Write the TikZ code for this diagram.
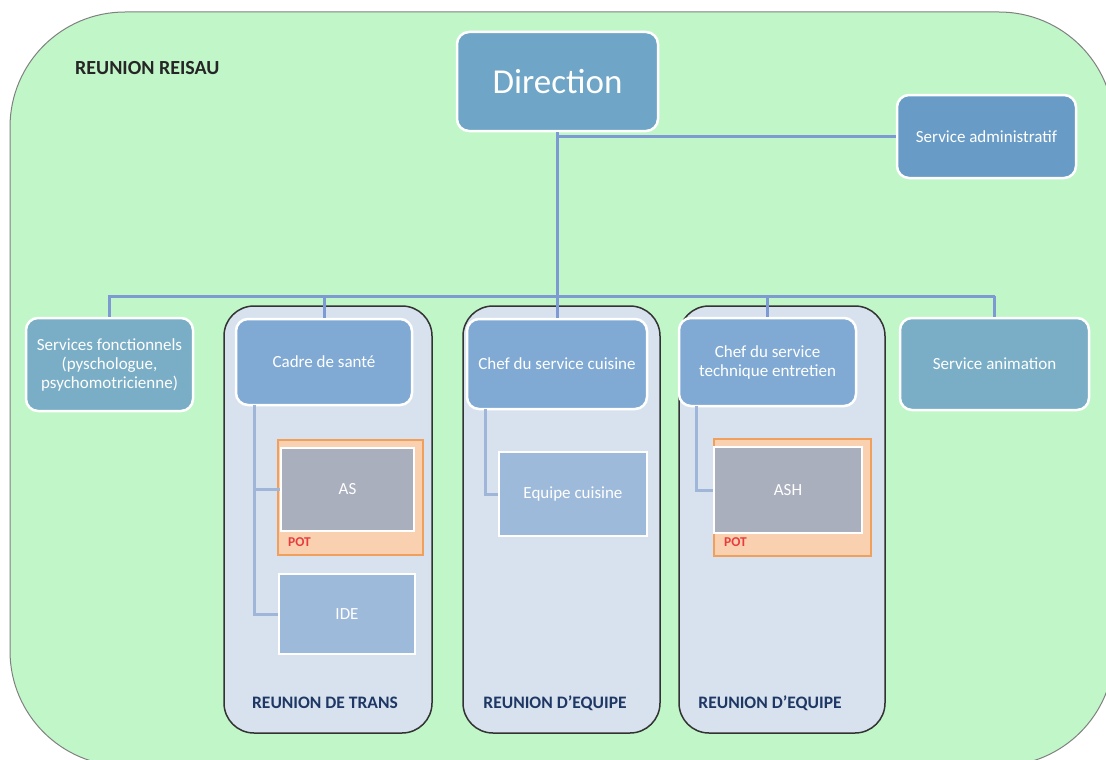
\documentclass[tikz,border=0pt]{standalone}
\usepackage{fontspec}
\setmainfont{Carlito}
\definecolor{bgfill}{RGB}{192,246,200}
\definecolor{dirfill}{RGB}{111,165,198}
\definecolor{admfill}{RGB}{104,156,198}
\definecolor{tealfill}{RGB}{122,174,198}
\definecolor{headfill}{RGB}{128,170,212}
\definecolor{grpfill}{RGB}{216,226,238}
\definecolor{teamfill}{RGB}{158,186,219}
\definecolor{greyfill}{RGB}{170,175,189}
\definecolor{potfill}{RGB}{249,209,176}
\definecolor{potdraw}{RGB}{240,160,90}
\definecolor{pottext}{RGB}{232,60,60}
\definecolor{linkc}{RGB}{125,155,210}
\definecolor{sublinkc}{RGB}{160,182,216}
\definecolor{grplabel}{RGB}{30,55,100}
\tikzset{
  box/.style={draw=white, line width=2.5pt, rounded corners=12pt, text=white,
    font=\fontsize{17}{19}\selectfont, align=center, inner sep=0pt},
  sqbox/.style={draw=white, line width=2.5pt, text=white,
    font=\fontsize{17}{19}\selectfont, align=center, inner sep=0pt},
  grp/.style={draw=black!80, line width=1.5pt, fill=grpfill, rounded corners=30pt, inner sep=0pt},
  potbox/.style={draw=potdraw, fill=potfill, line width=1.5pt, inner sep=0pt},
  potlabel/.style={text=pottext, font=\fontsize{13.5}{14}\selectfont\bfseries, inner sep=0pt, anchor=west},
  grplab/.style={text=grplabel, font=\fontsize{17.5}{18}\selectfont\bfseries, inner sep=0pt},
  link/.style={draw=linkc, line width=3pt},
  sublink/.style={draw=sublinkc, line width=3pt},
}
\begin{document}
\begin{tikzpicture}[x=1pt,y=-1pt]
\useasboundingbox (0,0) rectangle (1106,760);
% network area
\begin{scope}
\clip (0,0) rectangle (1106,760);
\draw[fill=bgfill, draw=black!50, line width=1pt, rounded corners=115pt] (10,12) rectangle (1114,766);
\end{scope}
\node[text=black!85, font=\fontsize{20}{20}\selectfont\bfseries, anchor=west, inner sep=0pt] (reisau) at (75,68) {REUNION REISAU};

% meeting groups
\node[grp, minimum width=208pt, minimum height=427pt] (g1) at (328,519.5) {};
\node[grp, minimum width=197pt, minimum height=427pt] (g2) at (561.5,519.5) {};
\node[grp, minimum width=206pt, minimum height=427pt] (g3) at (782,519.5) {};
\node[grplab] (l1) at (325,703) {REUNION DE TRANS};
\node[grplab] (l2) at (555,703) {REUNION D’EQUIPE};
\node[grplab] (l3) at (770,703) {REUNION D’EQUIPE};

% bus and branch points
\coordinate (busL) at (108,296);
\coordinate (busR) at (995,296);
\coordinate (c1) at (254,405);
\coordinate (c2) at (485,409);
\coordinate (c3) at (696,406);

% top of the chart
\node[box, fill=dirfill, minimum width=201pt, minimum height=99pt, font=\fontsize{35}{35}\selectfont] (dir) at (557.5,81.5) {Direction};
\node[box, fill=admfill, minimum width=179pt, minimum height=83pt] (adm) at (986.5,136.5) {Service administratif};

\draw[link] (busL) -- (busR);
\draw[link] (dir.south) -- (dir.south |- busL);
\draw[link] (dir.south |- adm.west) -- (adm.west);

% services
\node[box, fill=tealfill, minimum width=167pt, minimum height=93pt] (sf) at (109.5,364.5) {Services fonctionnels\\(pyschologue,\\psychomotricienne)};
\node[box, fill=headfill, minimum width=176pt, minimum height=86pt] (cadre) at (324,362) {Cadre de santé};
\node[box, fill=headfill, minimum width=180pt, minimum height=90pt] (cuis) at (557,364) {Chef du service cuisine};
\node[box, fill=headfill, minimum width=177pt, minimum height=88pt] (tech) at (767.5,362) {Chef du service\\technique entretien};
\node[box, fill=tealfill, minimum width=189pt, minimum height=92pt] (anim) at (994.5,364) {Service animation};

\draw[link] (sf.north) -- (sf.north |- busL);
\draw[link] (cadre.north) -- (cadre.north |- busL);
\draw[link] (cuis.north) -- (cuis.north |- busL);
\draw[link] (tech.north) -- (tech.north |- busL);
\draw[link] (anim.north) -- (anim.north |- busL);

% POT frames
\node[potbox, minimum width=145pt, minimum height=115pt] (pot1) at (350.5,497.5) {};
\node[potbox, minimum width=157pt, minimum height=117pt] (pot2) at (792.5,497.5) {};
\node[potlabel] (pl1) at (288,542) {POT};
\node[potlabel] (pl2) at (724,542) {POT};

% team links
\draw[sublink] (c1) |- (347.5,489.5) coordinate (asmid);
\draw[sublink] (c1) |- (347,614) coordinate (idemid);
\draw[sublink] (c2) |- (573,494) coordinate (eqmid);
\draw[sublink] (c3) |- (788,490) coordinate (ashmid);

% teams
\node[sqbox, fill=greyfill, minimum width=133pt, minimum height=83pt] (as) at (asmid) {AS};
\node[sqbox, fill=teamfill, minimum width=136pt, minimum height=80pt] (ide) at (idemid) {IDE};
\node[sqbox, fill=teamfill, minimum width=148pt, minimum height=84pt] (eq) at (eqmid) {Equipe cuisine};
\node[sqbox, fill=greyfill, minimum width=148pt, minimum height=86pt] (ash) at (ashmid) {ASH};
\end{tikzpicture}
\end{document}
